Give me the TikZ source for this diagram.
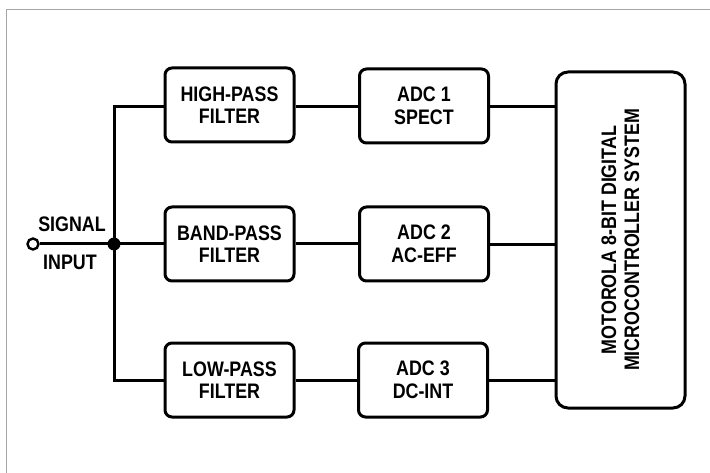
\documentclass[tikz,border=0pt]{standalone}
\usepackage{fontspec}
\setmainfont[FakeStretch=0.85]{Liberation Sans}
\begin{document}
\begin{tikzpicture}[x=1pt,y=-1pt,
  blk/.style={draw=black, line width=3pt, rounded corners=7pt, minimum width=129pt, minimum height=74pt, inner sep=0pt, align=center, font=\fontsize{21}{22.5}\selectfont\bfseries},
  wire/.style={draw=black, line width=3pt},
  lbl/.style={inner sep=0pt, font=\fontsize{21}{23}\selectfont\bfseries}]
\useasboundingbox (0,0) rectangle (710,473);
% frame
\draw[gray!70, line width=1pt] (6,480) -- (6,9.5) -- (720,9.5);
% filters
\node[blk] (hp) at (229.5,105) {HIGH-PASS\\FILTER};
\node[blk] (bp) at (229.5,244) {BAND-PASS\\FILTER};
\node[blk] (lp) at (229.5,380) {LOW-PASS\\FILTER};
% ADCs
\node[blk] (a1) at (424,106) {ADC 1\\SPECT};
\node[blk] (a2) at (424,244) {ADC 2\\AC-EFF};
\node[blk] (a3) at (423,380) {ADC 3\\DC-INT};
% MCU
\node[blk, minimum width=129pt, minimum height=336pt, rounded corners=12pt] (mcu) at (620.5,240) {};
\node[lbl, rotate=90, align=center] (mcut) at (mcu.center) {MOTOROLA 8-BIT DIGITAL\\MICROCONTROLLER SYSTEM};
% input
\node[circle, draw=black, line width=2.4pt, minimum size=11pt, inner sep=0pt] (in) at (33,244) {};
\node[circle, fill=black, minimum size=13pt, inner sep=0pt] (j) at (114,244) {};
\coordinate (jt) at (114,107);
\coordinate (jb) at (114,380);
\node[lbl] (sig) at (72,224) {SIGNAL};
\node[lbl] (inp) at (70,262) {INPUT};
% wires
\draw[wire] (in.east) -- (j.center) -- (bp.west);
\draw[wire] (hp.west |- jt) -- (jt) -- (jb) -- (lp.west |- jb);
\draw[wire] (hp.east |- 0,107) -- (a1.west |- 0,107);
\draw[wire] (bp) -- (a2);
\draw[wire] (lp) -- (a3);
\draw[wire] (a1.east |- 0,107) -- (mcu.west |- 0,107);
\draw[wire] (a2.east |- 0,245) -- (mcu.west |- 0,245);
\draw[wire] (a3.east |- 0,380) -- (mcu.west |- 0,380);
\end{tikzpicture}
\end{document}
